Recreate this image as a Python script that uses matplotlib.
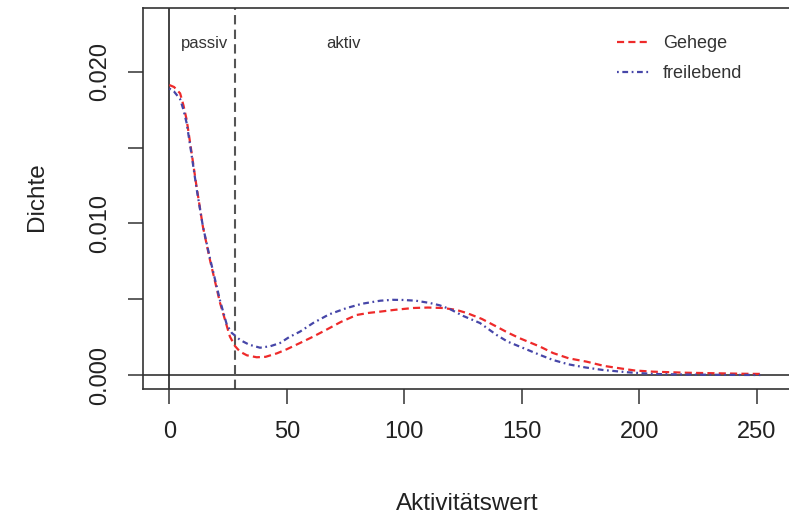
import matplotlib
matplotlib.use('Agg')
import matplotlib.pyplot as plt

plt.rcParams['font.family'] = ['Liberation Sans', 'DejaVu Sans']

# ---- data ----
gehege_x = [0, 2, 4.6, 6, 7.4, 9.5, 11.6, 14.3, 17.3, 21.6, 25.8, 28, 30.1, 33, 37.2, 41,
            45.8, 50, 55.6, 61.2, 67, 73, 79.7, 85, 89.7, 96, 103.8, 110, 116.5, 122,
            126.6, 133, 139.3, 144, 149.2, 157.8, 163.3, 170, 177.6, 185, 191.8, 198,
            205.8, 220, 234.3, 245, 252.8]
gehege_y = [0.01913, 0.0190, 0.01858, 0.0178, 0.01682, 0.01464, 0.01242, 0.00978, 0.00759,
            0.00475, 0.00253, 0.0019, 0.00154, 0.0013, 0.00117, 0.0012, 0.00143, 0.0017,
            0.00211, 0.00253, 0.0030, 0.0035, 0.00396, 0.0041, 0.00418, 0.0043, 0.00442,
            0.00445, 0.00442, 0.0043, 0.00409, 0.0037, 0.00319, 0.0028, 0.00242, 0.00187,
            0.00145, 0.0011, 0.00088, 0.0006, 0.00044, 0.0003, 0.00022, 0.00015, 0.00011,
            0.00008, 0.00007]

frei_x = [0, 2, 4.6, 6, 7.4, 9.5, 11.6, 14.3, 17.3, 21.6, 24.5, 26.6, 28, 30.1, 34, 38.6,
          43, 47.1, 51, 55.6, 61.2, 68, 75.5, 82, 89.7, 95, 99.5, 105, 110.9, 115, 119.4,
          125, 132.2, 139.3, 144, 149.2, 157.8, 163.3, 170, 177, 184.6, 195, 205.8, 220,
          235, 251.5]
frei_y = [0.01890, 0.0187, 0.0182, 0.0175, 0.0166, 0.0145, 0.0123, 0.0098, 0.0077, 0.0049,
          0.0033, 0.00277, 0.0026, 0.00231, 0.0020, 0.00180, 0.0019, 0.00211, 0.0025,
          0.00286, 0.00343, 0.0040, 0.00442, 0.0047, 0.00490, 0.00496, 0.00495, 0.0049,
          0.00475, 0.0046, 0.00435, 0.0039, 0.00343, 0.00264, 0.0022, 0.00187, 0.00132,
          0.00099, 0.0007, 0.0005, 0.00033, 0.00018, 0.00007, 0.00003, 0.00001, 0.0]

x_ticks = [0, 50, 100, 150, 200, 250]
y_ticks = [0.0, 0.005, 0.010, 0.015, 0.020]
y_tick_labels = ['0.000', '', '0.010', '', '0.020']
threshold = 28
series_names = ['Gehege', 'freilebend']
region_labels = ['passiv', 'aktiv']
region_label_x = [14.8, 74.1]
region_label_y = 0.02157

W, H = 789, 517
fig = plt.figure(figsize=(W / 100, H / 100), dpi=100)
ax = fig.add_axes([143 / W, 128 / H, (792 - 143) / W, (389 - 8) / H])
ax.set_xlim(-11.2, 265)
ax.set_ylim(-0.000923, 0.02421)

dark = '#333333'
for s in ax.spines.values():
    s.set_color(dark)
    s.set_linewidth(1.2)

ax.axhline(0, color=dark, lw=1.2, zorder=1)
ax.axvline(0, color='#222222', lw=1.2, zorder=1)
ax.axvline(threshold, color='#555555', lw=1.5, dashes=(4.5, 2.5), zorder=1)

l1, = ax.plot(gehege_x, gehege_y, color='#ee2a2a', lw=1.6, dashes=(3.2, 1.9),
              label=series_names[0], zorder=3)
l2, = ax.plot(frei_x, frei_y, color='#4646a8', lw=1.6, dashes=(0.8, 1.6, 2.6, 1.6),
              label=series_names[1], zorder=3)

ax.set_xticks(x_ticks)
ax.set_xticklabels([str(v) for v in x_ticks])
ax.set_yticks(y_ticks)
ax.set_yticklabels(y_tick_labels)
ax.tick_params(direction='out', length=10.8, width=1.1, color=dark,
               labelsize=17, labelcolor='#222222', pad=12.5)
for lab in ax.get_yticklabels():
    lab.set_rotation(90)
    lab.set_va('center')

for t, xx in zip(region_labels, region_label_x):
    ax.text(xx, region_label_y, t, ha='center', va='baseline', fontsize=12, color='#333333')

ax.legend(handles=[l1, l2], loc='upper left', bbox_to_anchor=(617 / W, 1 - 35 / H),
          bbox_transform=fig.transFigure, frameon=False, fontsize=13,
          handlelength=1.83, handletextpad=0.72, labelspacing=0.73,
          borderpad=0, borderaxespad=0, labelcolor='#333333')

fig.text(467.5 / W, 1 - 510 / H, 'Aktivitätswert', ha='center', va='baseline',
         fontsize=17.5, color='#222222')
fig.text(43 / W, 1 - 197 / H, 'Dichte', ha='center', va='baseline', rotation=90,
         rotation_mode='anchor', fontsize=17.5, color='#222222')

fig.savefig('out.png', dpi=100)
